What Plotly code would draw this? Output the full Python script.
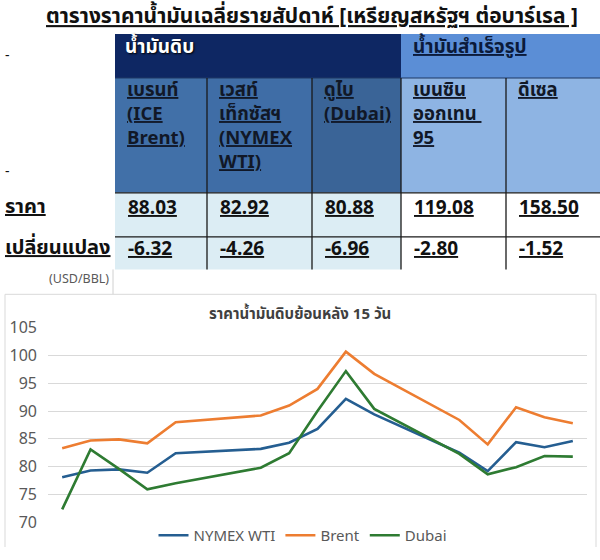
import plotly.graph_objects as go

# weekly average table (USD/BBL)
group_labels = ["น้ำมันดิบ", "น้ำมันสำเร็จรูป"]
product_labels = [
    ["เบรนท์", "(ICE", "Brent)"],
    ["เวสท์", "เท็กซัสฯ", "(NYMEX", "WTI)"],
    ["ดูไบ", "(Dubai)"],
    ["เบนซิน", "ออกเทน ", "95"],
    ["ดีเซล"],
]
row_labels = ["ราคา", "เปลี่ยนแปลง"]
prices = [88.03, 82.92, 80.88, 119.08, 158.50]
changes = [-6.32, -4.26, -6.96, -2.80, -1.52]

# daily crude prices, last 15 trading days (day offsets keep weekend gaps)
days = [0, 1, 2, 3, 4, 7, 8, 9, 10, 11, 14, 15, 16, 17, 18]
wti = [78.1, 79.3, 79.5, 78.9, 82.4, 83.2, 84.3, 86.8, 92.2, 89.4, 82.5, 79.2, 84.4, 83.5, 84.6]
brent = [83.3, 84.7, 84.9, 84.2, 88.0, 89.2, 91.0, 94.0, 100.7, 96.7, 88.4, 84.0, 90.7, 88.9, 87.8]
dubai = [72.3, 83.1, 79.6, 75.9, 77.0, 79.8, 82.4, 90.0, 97.2, 90.4, 82.3, 78.6, 79.9, 81.9, 81.8]
series_names = ["NYMEX WTI", "Brent", "Dubai"]

W, H = 600, 560
FONT = "Noto Sans Thai, Tahoma, Noto Sans, DejaVu Sans, sans-serif"


def px(x):
    return x / W


def py(y):
    return 1 - y / H


def u(lines):
    return "<br>".join(f"<u>{s}</u>" for s in lines)


fig = go.Figure()
for name, vals, color in zip(series_names, [wti, brent, dubai], ["#255E91", "#ED7D31", "#2E7B32"]):
    fig.add_trace(go.Scatter(x=days, y=vals, mode="lines", name=name,
                             line=dict(color=color, width=2.6)))

shapes = []
annotations = []

# table geometry
col_edges = [115, 207, 312, 401, 506, 600]
row_edges = [24, 70, 190, 236, 270]
head_fill = ["#4170A8", "#3F6DA6", "#3A6497", "#8EB4E3", "#8EB4E3"]
body_fill = ["#DCEDF4", "#DCEDF4", "#DCEDF4", "#FFFFFF", "#FFFFFF"]


def rect(x0, y0, x1, y1, fill, line=None):
    shapes.append(dict(type="rect", xref="paper", yref="paper", layer="below",
                       x0=px(x0), x1=px(x1), y0=py(y1), y1=py(y0),
                       fillcolor=fill, line=dict(width=0) if line is None else line))


def seg(x0, y0, x1, y1, color="#1a1a1a", width=1.3):
    shapes.append(dict(type="line", xref="paper", yref="paper",
                       x0=px(x0), x1=px(x1), y0=py(y0), y1=py(y1),
                       line=dict(color=color, width=width)))


def text(x, y, s, size, color="#111111", xanchor="left", yanchor="middle", **kw):
    annotations.append(dict(x=px(x), y=py(y), xref="paper", yref="paper", text=s,
                            showarrow=False, xanchor=xanchor, yanchor=yanchor,
                            align="left", font=dict(family=FONT, size=size, color=color, **kw)))


# group header row
rect(col_edges[0], row_edges[0], col_edges[3], row_edges[1], "#0E2763")
rect(col_edges[3], row_edges[0], col_edges[5], row_edges[1], "#5B8ED6")
text(col_edges[0] + 8, 38, f"<b>{group_labels[0]}</b>", 19, "#ffffff",
     shadow="1px 1px 2px #000")
text(col_edges[3] + 10, 38, f"<b><u>{group_labels[1]}</u></b>", 19, "#0b1a3a")

for i in range(5):
    x0, x1 = col_edges[i], col_edges[i + 1]
    rect(x0, row_edges[1], x1, row_edges[2], head_fill[i])
    rect(x0, row_edges[2], x1, row_edges[4], body_fill[i])
    text(x0 + 10, 66, "<b>" + u(product_labels[i]) + "</b>", 18.5, "#111827", yanchor="top")
    text(x0 + 11, 206, f"<b><u>{prices[i]:.2f}</u></b>", 19)
    text(x0 + 11, 249, f"<b><u>{changes[i]:.2f}</u></b>", 19)

# grid lines of the table
seg(col_edges[0], row_edges[1], col_edges[5], row_edges[1], "#1f3864", 1)
for y in row_edges[2:4]:
    seg(col_edges[0], y, col_edges[5], y)
for x in col_edges[1:5]:
    seg(x, row_edges[1], x, row_edges[4])

# left labels
text(3, 46, "-", 14)
text(3, 168, "-", 14)
text(3, 205, f"<b><u>{row_labels[0]}</u></b>", 20)
text(3, 248, f"<b><u>{row_labels[1]}</u></b>", 20)
text(111, 281, "(USD/BBL)", 12.5, "#595959", xanchor="right")
seg(113, 270, 113, 296, "#d0d0d0", 1)

# table title
text(312, 6, "<b><u>ตารางราคาน้ำมันเฉลี่ยรายสัปดาห์ [เหรียญสหรัฐฯ ต่อบาร์เรล ]</u></b>",
     21, "#111111", xanchor="center")

# chart frame (bottom edge runs off the picture) and title
seg(5, 296, 596, 296, "#d9d9d9", 1)
seg(5, 296, 5, 560, "#d9d9d9", 1)
seg(596, 296, 596, 560, "#d9d9d9", 1)
text(300, 317, "<b>ราคาน้ำมันดิบย้อนหลัง 15 วัน</b>", 15, "#404040", xanchor="center")

fig.update_layout(
    width=W, height=H,
    margin=dict(l=0, r=0, t=0, b=0),
    paper_bgcolor="white", plot_bgcolor="white",
    font=dict(family=FONT, color="#595959"),
    shapes=shapes, annotations=annotations,
    showlegend=True,
    legend=dict(orientation="h", x=0.505, xanchor="center", y=py(548), yanchor="middle",
                font=dict(size=15, color="#595959"), bgcolor="rgba(0,0,0,0)",
                itemwidth=30, tracegroupgap=0),
    xaxis=dict(domain=[px(48), px(587)], range=[-0.5, 18.5], showticklabels=False,
               showgrid=False, zeroline=False, showline=False, ticks=""),
    yaxis=dict(domain=[py(534), py(331)], range=[70, 105], dtick=5,
               gridcolor="#d9d9d9", gridwidth=1, zeroline=False, showline=False,
               tickfont=dict(size=16, color="#595959"), ticklabelstandoff=10),
)

# drop the page's default body margin so the figure sits at the window corner
fig.write_html("out.html", config={"displayModeBar": False},
               post_script="document.body.style.margin='0';"
                           "document.documentElement.style.overflow='hidden';")
